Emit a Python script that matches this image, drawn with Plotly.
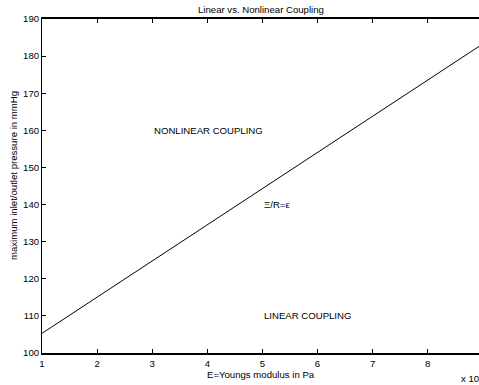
import plotly.graph_objects as go

# Data
E_values = [1, 9]
pressure = [105.3, 183.3]
x_ticks = [1, 2, 3, 4, 5, 6, 7, 8]
y_ticks = [100, 110, 120, 130, 140, 150, 160, 170, 180, 190]
labels = ["NONLINEAR COUPLING", "\u039e/R=\u03b5", "LINEAR COUPLING"]
label_x = [3, 5, 5]
label_y = [160, 140, 110]

FONT = "Liberation Sans, Arial, Helvetica, sans-serif"

fig = go.Figure()
fig.add_trace(go.Scatter(x=E_values, y=pressure, mode="lines",
                         line=dict(color="black", width=1), showlegend=False,
                         hoverinfo="skip"))

for t, xx, yy in zip(labels, label_x, label_y):
    fig.add_annotation(x=xx, y=yy, text=t, showarrow=False, xanchor="left",
                       yanchor="middle", font=dict(size=9.6, color="black", family=FONT))

fig.add_annotation(x=0.5, y=1, xref="paper", yref="paper", yshift=10,
                   text="Linear vs. Nonlinear Coupling", showarrow=False,
                   xanchor="center", yanchor="middle",
                   font=dict(size=9.6, color="black", family=FONT))
fig.add_annotation(x=0.5, y=0, xref="paper", yref="paper", yshift=-21,
                   text="E=Youngs modulus in Pa", showarrow=False,
                   xanchor="center", yanchor="middle",
                   font=dict(size=9.6, color="black", family=FONT))
fig.add_annotation(x=0, y=0.5, xref="paper", yref="paper", xshift=-29, yshift=10,
                   text="maximum inlet/outlet pressure in mmHg", showarrow=False,
                   textangle=-90, xanchor="center", yanchor="middle",
                   font=dict(size=9.6, color="black", family=FONT))
fig.add_annotation(x=1, y=0, xref="paper", yref="paper", xshift=-20, yshift=-25,
                   text="x 10", showarrow=False, xanchor="left", yanchor="middle",
                   font=dict(size=9.6, color="black", family=FONT))

fig.update_layout(
    width=479, height=385,
    margin=dict(l=42, r=0, t=19, b=32),
    plot_bgcolor="white", paper_bgcolor="white",
    font=dict(family=FONT, size=10, color="black"),
    xaxis=dict(range=[1, 8.93], tickvals=x_ticks, ticks="inside", ticklen=4,
               tickcolor="black", showline=True, linecolor="black", linewidth=2,
               mirror="ticks", showgrid=False, zeroline=False,
               tickfont=dict(size=9.6, color="black", family=FONT)),
    yaxis=dict(range=[100, 190], tickvals=y_ticks, ticks="inside", ticklen=4,
               tickcolor="black", showline=True, linecolor="black", linewidth=1,
               mirror=False, showgrid=False, zeroline=False,
               tickfont=dict(size=9.6, color="black", family=FONT)),
    yaxis2=dict(range=[100, 190], tickvals=y_ticks, ticks="inside", ticklen=2,
                tickcolor="black", showline=False, overlaying="y", side="right",
                showticklabels=False, showgrid=False, zeroline=False),
)

fig.write_html("out.html", config={"displayModeBar": False},
               post_script="document.body.style.margin='0';document.body.style.overflow='hidden';")
